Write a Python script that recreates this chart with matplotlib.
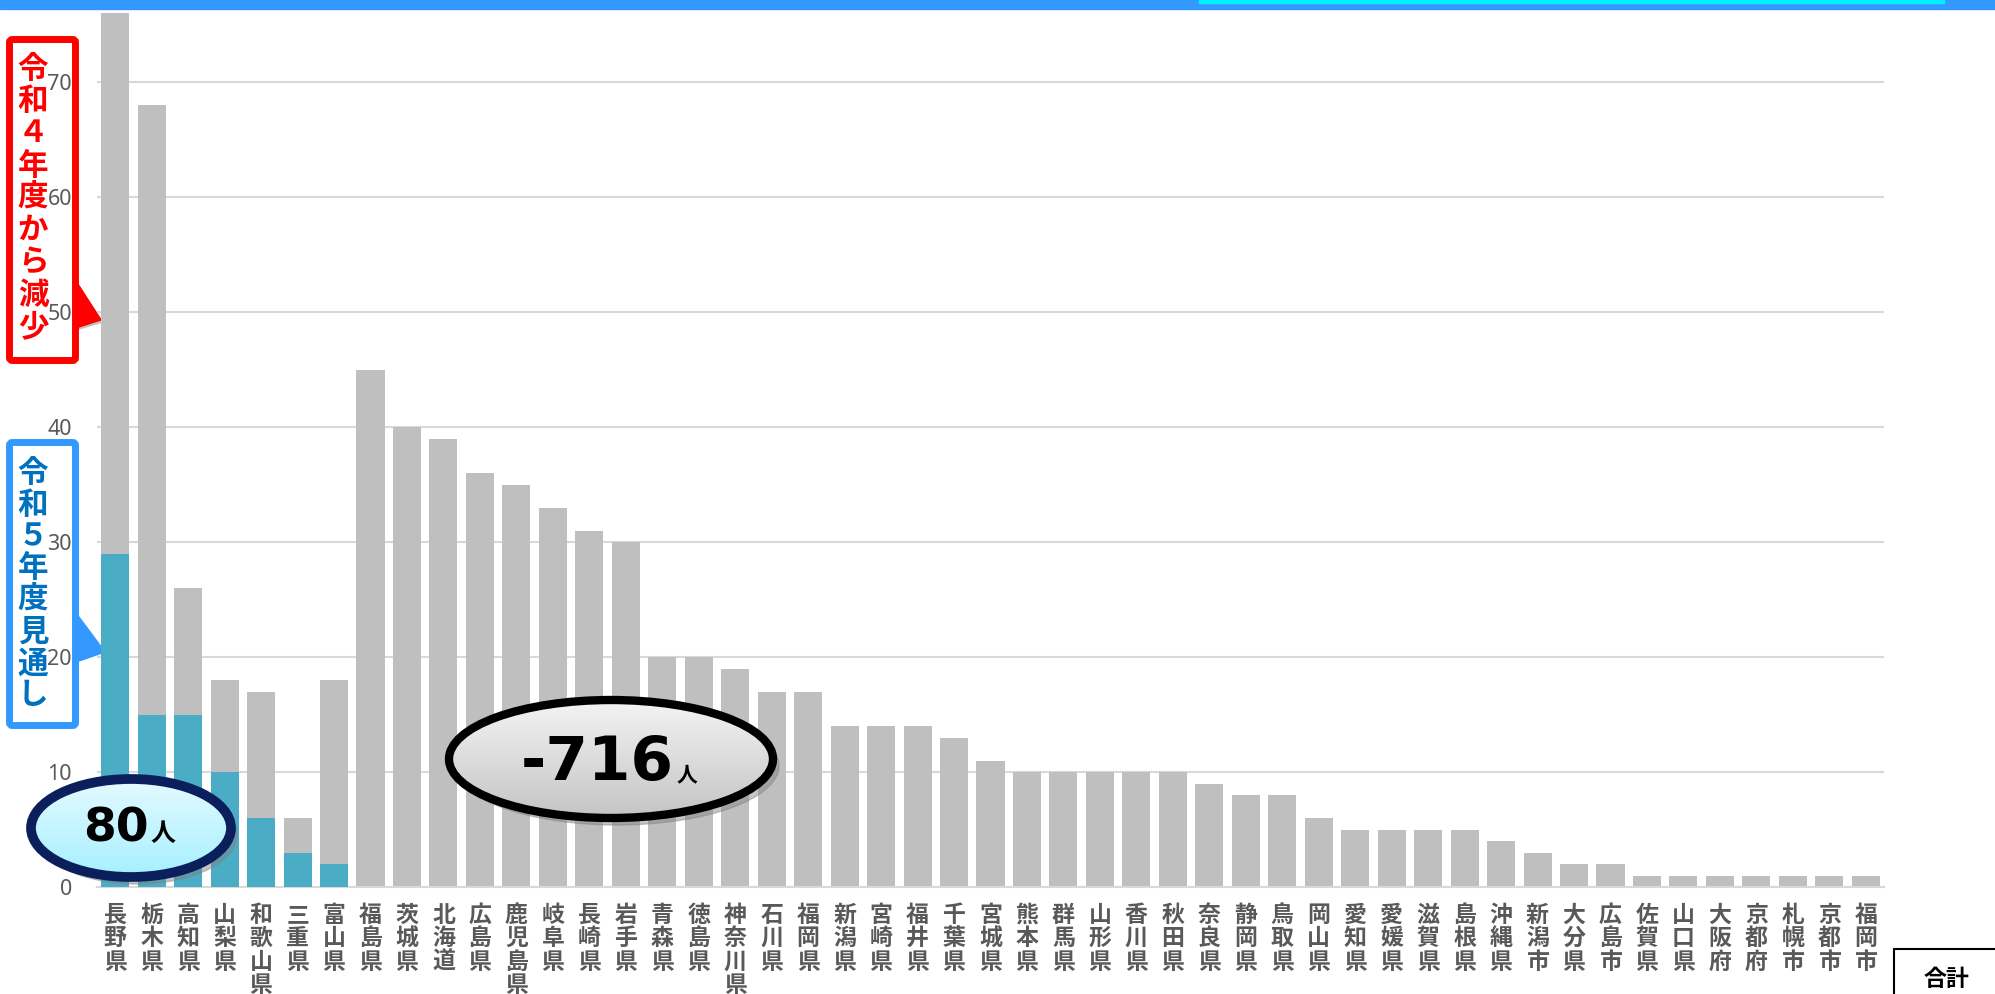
import numpy as np
import matplotlib.pyplot as plt
from matplotlib.patches import FancyBboxPatch, Ellipse, Polygon, Rectangle

plt.rcParams['font.family'] = ['Noto Sans CJK JP', 'DejaVu Sans']

names = ["長野県", "栃木県", "高知県", "山梨県", "和歌山県", "三重県", "富山県",
         "福島県", "茨城県", "北海道", "広島県", "鹿児島県", "岐阜県", "長崎県",
         "岩手県", "青森県", "徳島県", "神奈川県", "石川県", "福岡県", "新潟県",
         "宮崎県", "福井県", "千葉県", "宮城県", "熊本県", "群馬県", "山形県",
         "香川県", "秋田県", "奈良県", "静岡県", "鳥取県", "岡山県", "愛知県",
         "愛媛県", "滋賀県", "島根県", "沖縄県", "新潟市", "大分県", "広島市",
         "佐賀県", "山口県", "大阪府", "京都府", "札幌市", "京都市", "福岡市"]
# 令和4年度
r4 = [76, 68, 26, 18, 17, 6, 18, 45, 40, 39, 36, 35, 33, 31, 30, 20, 20, 19,
      17, 17, 14, 14, 14, 13, 11, 10, 10, 10, 10, 10, 9, 8, 8, 6, 5, 5, 5, 5,
      4, 3, 2, 2, 1, 1, 1, 1, 1, 1, 1]
# 令和5年度見通し
r5 = [29, 15, 15, 10, 6, 3, 2] + [0] * 42

W, H = 1995, 994
fig = plt.figure(figsize=(W / 100, H / 100), dpi=100)

# background overlay (callout boxes sit behind the tick labels)
bg = fig.add_axes([0, 0, 1, 1], zorder=0)
bg.set_xlim(0, W)
bg.set_ylim(H, 0)
bg.axis('off')

ax = fig.add_axes([97 / W, 107 / H, 1787 / W, 874 / H], zorder=1)
ax.patch.set_alpha(0)
x = np.arange(len(names))
ax.bar(x, r4, width=0.77, color='#BFBFBF', zorder=2)
ax.bar(x, r5, width=0.77, color='#4BACC6', zorder=3)
ax.set_xlim(-0.5, len(names) - 0.5)
ax.set_ylim(0, 76)
ax.set_yticks(range(0, 71, 10))
ax.yaxis.grid(True, color='#D9D9D9', lw=1.5, zorder=0)
for s in ['top', 'right', 'left']:
    ax.spines[s].set_visible(False)
ax.spines['bottom'].set_color('#D9D9D9')
ax.spines['bottom'].set_linewidth(1.5)
ax.tick_params(axis='y', length=0, pad=18, labelsize=15.5, labelcolor='#595959')
ax.tick_params(axis='x', length=0, pad=12)
ax.set_xticks(x)
ax.set_xticklabels(["\n".join(n) for n in names], fontsize=16.5, fontweight='bold',
                   color='#595959', linespacing=1.03)
for t in ax.get_yticklabels():
    t.set_family(['Noto Sans', 'DejaVu Sans'])

# top band
bg.add_patch(Rectangle((0, 0), W, 9, color='#3399FF', zorder=1))
bg.add_patch(Rectangle((1199, 0), 745, 3, color='#00F0FF', zorder=2))

# red callout
bg.add_patch(Polygon([(76, 283), (103, 322), (76, 330)], closed=True,
                     color='#A0A0A0', alpha=0.5, zorder=1))
bg.add_patch(Polygon([(76, 281), (101, 320), (76, 328)], closed=True,
                     color='#FF0000', zorder=2))
bg.add_patch(FancyBboxPatch((9.5, 39.5), 66, 321, boxstyle='round,pad=0,rounding_size=3',
                            fc='white', ec='#FF0000', lw=5, zorder=3))
bg.text(33, 53, "\n".join("令和４年度から減少"), color='#FF0000', fontsize=22,
        fontweight='bold', ha='center', va='top', linespacing=1.01, zorder=4)

# blue callout
bg.add_patch(Polygon([(76, 613), (105, 652), (76, 662)], closed=True,
                     color='#3399FF', zorder=2))
bg.add_patch(FancyBboxPatch((9.5, 442.5), 66, 283, boxstyle='round,pad=0,rounding_size=3',
                            fc='white', ec='#3399FF', lw=5, zorder=3))
bg.text(33, 457, "\n".join("令和５年度見通し"), color='#0070C0', fontsize=22,
        fontweight='bold', ha='center', va='top', linespacing=0.99, zorder=4)

# foreground overlay (ellipses above the bars)
fg = fig.add_axes([0, 0, 1, 1], zorder=2)
fg.set_xlim(0, W)
fg.set_ylim(H, 0)
fg.axis('off')


def oval(cx, cy, w, h, top, bottom, edge, lw):
    fg.add_patch(Ellipse((cx + 6, cy + 7), w, h, color='#808080', alpha=0.45, zorder=1))
    e = Ellipse((cx, cy), w, h, fc='none', ec=edge, lw=lw, zorder=3)
    fg.add_patch(e)
    c0 = np.array(plt.matplotlib.colors.to_rgb(top))
    c1 = np.array(plt.matplotlib.colors.to_rgb(bottom))
    t = np.linspace(0, 1, 100)[:, None, None]
    grad = c0 * (1 - t) + c1 * t
    im = fg.imshow(grad, extent=(cx - w / 2, cx + w / 2, cy + h / 2, cy - h / 2),
                   origin='upper', aspect='auto', zorder=2)
    clip = Ellipse((cx, cy), w, h, transform=fg.transData)
    im.set_clip_path(clip)


oval(131, 828, 200, 98, '#E4FAFF', '#A6F0FF', '#0A1F5C', 7)
oval(611, 759, 324, 118, '#F4F4F4', '#C4C4C4', '#000000', 6)
fg.set_xlim(0, W)
fg.set_ylim(H, 0)

fg.text(83, 842, "80", fontsize=34, fontweight='bold', family='DejaVu Sans',
        ha='left', va='baseline', zorder=4)
fg.text(150, 841, "人", fontsize=18, fontweight='bold', ha='left', va='baseline', zorder=4)
fg.text(521, 780, "-716", fontsize=44, fontweight='bold', family='DejaVu Sans',
        ha='left', va='baseline', zorder=4)
fg.text(677, 781, "人", fontsize=15, fontweight='bold', ha='left', va='baseline', zorder=4)

# 合計 box
fg.add_patch(Rectangle((1894, 949), 120, 80, fc='white', ec='black', lw=1.5, zorder=3))
fg.text(1946, 980, "合計", fontsize=16.5, fontweight='bold', ha='center', va='center', zorder=4)

fig.savefig('out.png', dpi=100)
